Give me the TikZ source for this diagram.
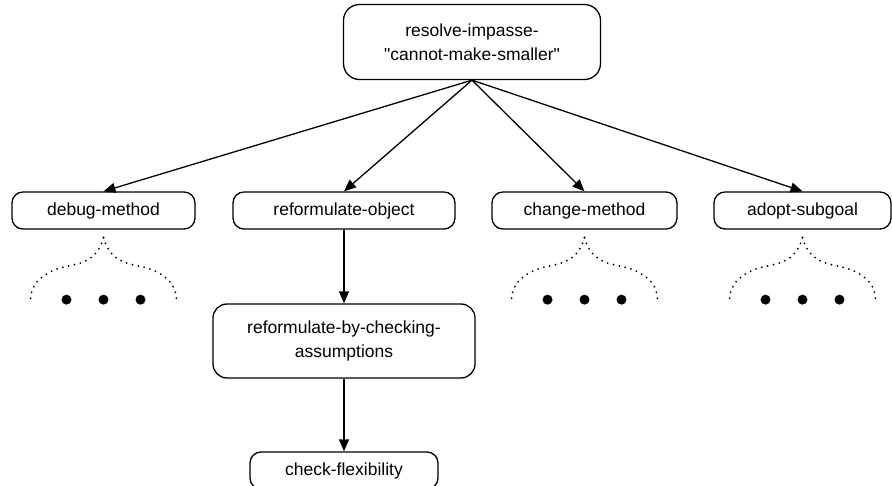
\documentclass[tikz,border=0pt]{standalone}
\usepackage{fontspec}
\newfontfamily\labelfont{Liberation Sans}
\usetikzlibrary{arrows.meta,calc}
\begin{document}
\begin{tikzpicture}[x=1pt,y=-1pt,
  goalbox/.style={draw, line width=1.3pt, rounded corners=11pt, align=center,
    inner sep=0pt, minimum height=37pt, font=\labelfont\fontsize{17.5}{24}\selectfont},
  link/.style={line width=1.3pt, -{Triangle[length=12pt,width=10pt]}},
  fan/.style={line width=2pt, dash pattern=on 0pt off 6pt, line cap=round},
  dot/.style={circle, fill=black, inner sep=0pt, minimum size=10pt}]
  \useasboundingbox (0,0) rectangle (892,486);
  \clip (0,0) rectangle (892,486);

  % goal nodes
  \node[goalbox, minimum width=257pt, minimum height=75pt, rounded corners=16pt]
    (top) at (472,42) {resolve-impasse-\\"cannot-make-smaller"};
  \node[goalbox, minimum width=183pt] (debug) at (103.5,210.5) {debug-method};
  \node[goalbox, minimum width=222pt] (reform) at (344,210.5) {reformulate-object};
  \node[goalbox, minimum width=185pt] (change) at (584.5,210.5) {change-method};
  \node[goalbox, minimum width=177pt] (adopt) at (802.5,210.5) {adopt-subgoal};
  \node[goalbox, minimum width=262pt, minimum height=74pt, rounded corners=14pt]
    (checkass) at (344,341) {reformulate-by-checking-\\assumptions};
  \node[goalbox, minimum width=188pt] (flex) at (344,470.5) {check-flexibility};

  % connectors
  \foreach \n in {debug,reform,change,adopt}
    \draw[link] (top.south) -- (\n.north);
  \draw[link] (reform.south) -- (checkass.north);
  \draw[link] (checkass.south) -- (flex.north);

  % elided subtrees: dotted fan with three dots
  \foreach \n in {debug,change,adopt} {
    \coordinate (\n-apex) at ($(\n.south)+(0,8)$);
    \draw[fan] (\n-apex)
      .. controls +(-6,21) and +(20,-4) .. ++(-38,29)
      .. controls +(-22,5) and +(0,-16) .. ++(-35,33);
    \draw[fan] (\n-apex)
      .. controls +(6,21) and +(-20,-4) .. ++(38,29)
      .. controls +(22,5) and +(0,-16) .. ++(35,33);
    \node[dot] (\n-d1) at ($(\n.south)+(-37,70)$) {};
    \node[dot] (\n-d2) at ($(\n.south)+(0,70)$) {};
    \node[dot] (\n-d3) at ($(\n.south)+(37,70)$) {};
  }
\end{tikzpicture}
\end{document}
